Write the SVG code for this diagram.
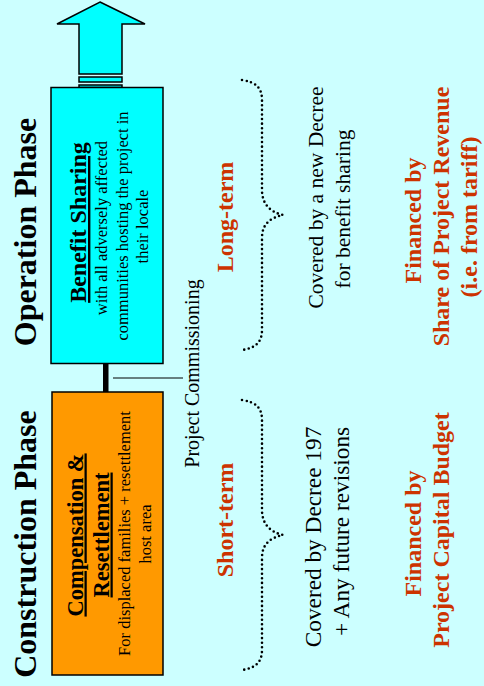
<svg xmlns="http://www.w3.org/2000/svg" width="484" height="686" viewBox="0 0 484 686">
  <style>
    .serif { font-family: "Liberation Serif", "Times New Roman", serif; }
    .phase { font-size: 32px; font-weight: bold; fill: #000; }
    .title { font-weight: bold; fill: #000; text-decoration: underline; }
    .body { font-size: 16.5px; fill: #000; }
    .red { fill: #CC3300; font-weight: bold; font-size: 24px; }
    .note { fill: #000; }
    .box { stroke: #000; stroke-width: 1.5; }
    .brace { fill: none; stroke: #000; stroke-width: 2.6; stroke-linecap: round; stroke-dasharray: 0 4.6; }
  </style>

  <rect width="484" height="686" fill="#CCFFFF"/>

  <!-- phase headings -->
  <g id="operation-phase" class="serif">
    <text class="phase" transform="translate(36,232) rotate(-90)" text-anchor="middle">Operation Phase</text>
  </g>
  <g id="construction-phase" class="serif">
    <text class="phase" transform="translate(36,544) rotate(-90)" text-anchor="middle">Construction Phase</text>
  </g>

  <!-- upward arrow leaving the benefit sharing box -->
  <g id="continuation-arrow">
    <polygon class="box" fill="#00FFFF" points="100,2 145,24 122,24 122,74 79,74 79,24 57,24"/>
    <rect class="box" fill="#00FFFF" x="79" y="77" width="43" height="5"/>
    <rect class="box" fill="#00FFFF" x="79" y="85" width="43" height="2.5"/>
  </g>

  <!-- benefit sharing box -->
  <g id="benefit-sharing" class="serif">
    <rect class="box" fill="#00FFFF" x="51" y="87.5" width="112" height="276"/>
    <text class="title" font-size="24" transform="translate(86,222.5) rotate(-90)" text-anchor="middle">Benefit Sharing</text>
    <text class="body" transform="translate(107,228) rotate(-90)" text-anchor="middle">with all adversely affected</text>
    <text class="body" transform="translate(127.5,226) rotate(-90)" text-anchor="middle">communities hosting the project in</text>
    <text class="body" transform="translate(148,226.5) rotate(-90)" text-anchor="middle">their locale</text>
  </g>

  <!-- compensation box -->
  <g id="compensation-resettlement" class="serif">
    <rect class="box" fill="#FF9900" x="52" y="392" width="111" height="283"/>
    <text class="title" font-size="22.5" transform="translate(82.5,535) rotate(-90)" text-anchor="middle">Compensation &amp;</text>
    <text class="title" font-size="22.5" transform="translate(108.5,535) rotate(-90)" text-anchor="middle">Resettlement</text>
    <text class="body" transform="translate(129.5,533.5) rotate(-90)" text-anchor="middle">For displaced families + resettlement</text>
    <text class="body" transform="translate(151,534) rotate(-90)" text-anchor="middle">host area</text>
  </g>

  <!-- connectors -->
  <g id="connectors">
    <rect x="103" y="363" width="5.5" height="29" fill="#000"/>
    <line x1="113" y1="378" x2="183" y2="378" stroke="#000" stroke-width="1"/>
    <path class="brace" d="M242,80 C256,82 262,88 262,100 L262,190 C262,204 270,212 283,215 C270,218 262,224 262,238 L262,330 C262,342 256,348 242,350"/>
    <path class="brace" d="M242,400 C256,402 262,408 262,420 L262,510 C262,524 270,532 283,535 C270,538 262,544 262,558 L262,650 C262,662 256,668 242,670"/>
  </g>

  <!-- milestone label -->
  <g id="project-commissioning" class="serif">
    <text class="note" font-size="20" transform="translate(199,373.5) rotate(-90)" text-anchor="middle">Project Commissioning</text>
  </g>

  <!-- term labels -->
  <g id="long-term" class="serif">
    <text class="red" transform="translate(233,217) rotate(-90)" text-anchor="middle">Long-term</text>
  </g>
  <g id="short-term" class="serif">
    <text class="red" transform="translate(233,520) rotate(-90)" text-anchor="middle">Short-term</text>
  </g>

  <!-- legal coverage -->
  <g id="coverage-long" class="serif">
    <text class="note" font-size="21.5" transform="translate(323,197.5) rotate(-90)" text-anchor="middle">Covered by a new Decree</text>
    <text class="note" font-size="21.5" transform="translate(350,209) rotate(-90)" text-anchor="middle">for benefit sharing</text>
  </g>
  <g id="coverage-short" class="serif">
    <text class="note" font-size="23.3" transform="translate(321,537) rotate(-90)" text-anchor="middle">Covered by Decree 197</text>
    <text class="note" font-size="23.3" transform="translate(349,531.5) rotate(-90)" text-anchor="middle">+ Any future revisions</text>
  </g>

  <!-- financing -->
  <g id="financing-long" class="serif">
    <text class="red" transform="translate(421,220.5) rotate(-90)" text-anchor="middle">Financed by</text>
    <text class="red" transform="translate(449,216.5) rotate(-90)" text-anchor="middle">Share of Project Revenue</text>
    <text class="red" transform="translate(477,217) rotate(-90)" text-anchor="middle">(i.e. from tariff)</text>
  </g>
  <g id="financing-short" class="serif">
    <text class="red" transform="translate(421,533.5) rotate(-90)" text-anchor="middle">Financed by</text>
    <text class="red" transform="translate(449,530) rotate(-90)" text-anchor="middle">Project Capital Budget</text>
  </g>
</svg>
